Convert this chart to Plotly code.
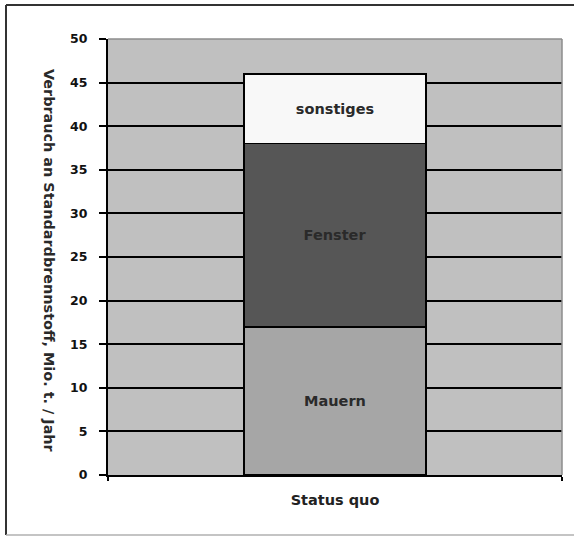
import plotly.graph_objects as go

# Data
categories = ["Status quo"]
segments = ["Mauern", "Fenster", "sonstiges"]
values = {
    "Mauern": [17],
    "Fenster": [21],
    "sonstiges": [8],
}
colors = {
    "Mauern": "#a6a6a6",
    "Fenster": "#565656",
    "sonstiges": "#f8f8f8",
}
y_ticks = [0, 5, 10, 15, 20, 25, 30, 35, 40, 45, 50]
y_title = "Verbrauch an Standardbrennstoff, Mio. t. / Jahr"

W, H = 574, 536
ML, MR, MT, MB = 108, 12, 39, 61
PW, PH = W - ML - MR, H - MT - MB
FONT = "DejaVu Sans"


def px_x(x):
    return (x - ML) / PW


def px_y(y):
    return (H - MB - y) / PH


fig = go.Figure()
for seg in segments:
    fig.add_trace(go.Bar(
        x=categories,
        y=values[seg],
        name=seg,
        marker=dict(color=colors[seg], line=dict(color="#000000", width=1.5)),
        text=[seg],
        textposition="inside",
        insidetextanchor="middle",
        textangle=0,
        textfont=dict(family=FONT, size=14.5, color="#2a2a2a", weight="bold"),
        hoverinfo="skip",
    ))

fig.update_layout(
    width=W, height=H,
    barmode="stack",
    bargap=0.6,
    showlegend=False,
    paper_bgcolor="#ffffff",
    plot_bgcolor="#c0c0c0",
    margin=dict(l=ML, r=MR, t=MT, b=MB),
    uniformtext=dict(mode="show", minsize=14),
)

fig.update_xaxes(
    type="category",
    showline=True, linecolor="#000000", linewidth=2,
    ticks="outside", tickson="boundaries", ticklen=4, tickcolor="#000000", tickwidth=1.5,
    ticklabelstandoff=11,
    tickfont=dict(family=FONT, size=14.5, color="#222222", weight="bold"),
    showgrid=False,
)
fig.update_yaxes(
    range=[0, 50],
    tickvals=y_ticks,
    showline=True, linecolor="#000000", linewidth=2,
    ticks="outside", ticklen=7, tickcolor="#000000", tickwidth=1.5,
    ticklabelstandoff=9,
    tickfont=dict(family=FONT, size=12.5, color="#111111", weight="bold"),
    showgrid=True, gridcolor="#000000", gridwidth=1.5,
    zeroline=False,
)

# Axis title reading top to bottom
fig.add_annotation(
    xref="paper", yref="paper",
    x=px_x(39), y=px_y(261),
    text=y_title, textangle=90,
    showarrow=False,
    font=dict(family=FONT, size=14.4, color="#2a2a2a", weight="bold"),
)

# Plot area top and right edges
fig.add_shape(type="line", xref="paper", yref="paper", x0=0, x1=1, y0=1, y1=1,
              line=dict(color="#8c8c8c", width=1.5), layer="above")
fig.add_shape(type="line", xref="paper", yref="paper", x0=1, x1=1, y0=0, y1=1,
              line=dict(color="#8c8c8c", width=1.5), layer="above")

# Chart frame
fig.add_shape(type="line", xref="paper", yref="paper",
              x0=px_x(6), x1=px_x(W + 2), y0=px_y(5), y1=px_y(5),
              line=dict(color="#333333", width=2))
fig.add_shape(type="line", xref="paper", yref="paper",
              x0=px_x(6), x1=px_x(6), y0=px_y(5), y1=px_y(535),
              line=dict(color="#333333", width=2))
fig.add_shape(type="line", xref="paper", yref="paper",
              x0=px_x(6), x1=px_x(W + 2), y0=px_y(535), y1=px_y(535),
              line=dict(color="#b0b0b0", width=1.5))

fig.write_html("out.html")
